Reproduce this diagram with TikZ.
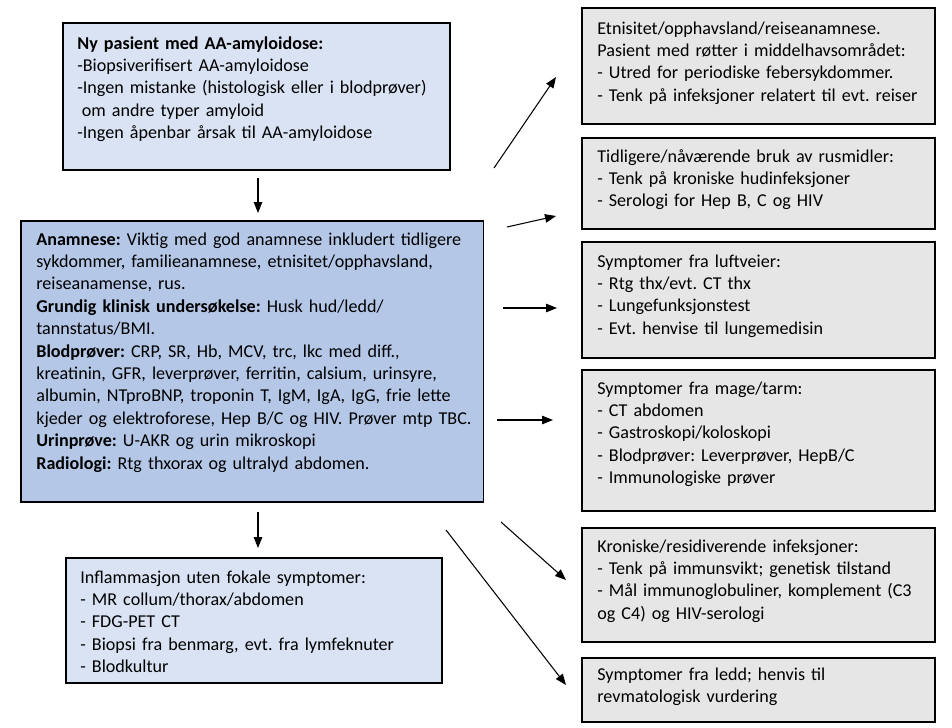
\documentclass[tikz,border=0pt]{standalone}
\usepackage{fontspec}
\setmainfont{Carlito}
\usepackage{tikz}
\usetikzlibrary{positioning, arrows.meta}
\definecolor{blaalys}{RGB}{218,227,243}
\definecolor{blaa}{RGB}{180,199,231}
\definecolor{graalys}{RGB}{231,230,230}
\frenchspacing

\begin{document}
\begin{tikzpicture}[x=0.02cm, y=-0.02cm, font=\fontsize{10.3}{12.76}\selectfont,
    boks/.style={draw=black, line width=0.9pt, anchor=north west, inner sep=0pt},
    tekst/.style={anchor=base west, align=left, inner sep=0pt},
    pil/.style={-{Triangle[length=0.22cm, width=0.17cm]}, line width=0.6pt}]
    \useasboundingbox (0,0) rectangle (952,727);
    % venstre kolonne
    \node[boks, fill=blaalys, minimum width=7.74cm, minimum height=2.94cm] (nypasient) at (62,22) {};
    \node[tekst, text width=7.4cm] (nypasienttekst) at (77,49) {\textbf{Ny pasient med AA-amyloidose:}\\
      -Biopsiverifisert AA-amyloidose\\
      -Ingen mistanke (histologisk eller i blodprøver)\\
      \hspace{0.25em}om andre typer amyloid\\
      -Ingen åpenbar årsak til AA-amyloidose};
    \node[boks, fill=blaa, minimum width=9.26cm, minimum height=5.62cm] (utredning) at (20,220) {};
    \node[tekst, text width=9.0cm] (utredningtekst) at (36,245) {\textbf{Anamnese:} Viktig med god anamnese inkludert tidligere\\
      sykdommer, familieanamnese, etnisitet/opphavsland,\\
      reiseanamense, rus.\\
      \textbf{Grundig klinisk undersøkelse:} Husk hud/ledd/\\
      tannstatus/BMI.\\
      \textbf{Blodprøver:} CRP, SR, Hb, MCV, trc, lkc med diff.,\\
      kreatinin, GFR, leverprøver, ferritin, calsium, urinsyre,\\
      albumin, NTproBNP, troponin T, IgM, IgA, IgG, frie lette\\
      kjeder og elektroforese, Hep B/C og HIV. Prøver mtp TBC.\\
      \textbf{Urinprøve:} U-AKR og urin mikroskopi\\
      \textbf{Radiologi:} Rtg thxorax og ultralyd abdomen.};
    \node[boks, fill=blaalys, minimum width=7.52cm, minimum height=2.5cm] (inflammasjon) at (65,557) {};
    \node[tekst, text width=7.2cm] (inflammasjontekst) at (80,583) {Inflammasjon uten fokale symptomer:\\
      - MR collum/thorax/abdomen\\
      - FDG-PET CT\\
      - Biopsi fra benmarg, evt. fra lymfeknuter\\
      - Blodkultur};
    % høyre kolonne
    \node[boks, fill=graalys, minimum width=7.06cm, minimum height=2.32cm] (etnisitet) at (581,7) {};
    \node[tekst, text width=6.8cm] (etnisitettekst) at (597,34) {Etnisitet/opphavsland/reiseanamnese.\\
      Pasient med røtter i middelhavsområdet:\\
      - Utred for periodiske febersykdommer.\\
      - Tenk på infeksjoner relatert til evt. reiser};
    \node[boks, fill=graalys, minimum width=7.06cm, minimum height=1.82cm] (rusmidler) at (581,137) {};
    \node[tekst, text width=6.8cm] (rusmidlertekst) at (597,162) {Tidligere/nåværende bruk av rusmidler:\\
      - Tenk på kroniske hudinfeksjoner\\
      - Serologi for Hep B, C og HIV};
    \node[boks, fill=graalys, minimum width=7.06cm, minimum height=2.32cm] (luftveier) at (581,241) {};
    \node[tekst, text width=6.8cm] (luftveiertekst) at (597,267) {Symptomer fra luftveier:\\
      - Rtg thx/evt. CT thx\\
      - Lungefunksjonstest\\
      - Evt. henvise til lungemedisin};
    \node[boks, fill=graalys, minimum width=7.06cm, minimum height=2.82cm] (magetarm) at (581,369) {};
    \node[tekst, text width=6.8cm] (magetarmtekst) at (597,394) {Symptomer fra mage/tarm:\\
      - CT abdomen\\
      - Gastroskopi/koloskopi\\
      - Blodprøver: Leverprøver, HepB/C\\
      - Immunologiske prøver};
    \node[boks, fill=graalys, minimum width=7.06cm, minimum height=2.28cm] (infeksjoner) at (581,527) {};
    \node[tekst, text width=6.8cm] (infeksjonertekst) at (597,552) {Kroniske/residiverende infeksjoner:\\
      - Tenk på immunsvikt; genetisk tilstand\\
      - Mål immunoglobuliner, komplement (C3\\
      og C4) og HIV-serologi};
    \node[boks, fill=graalys, minimum width=7.06cm, minimum height=1.28cm] (ledd) at (581,657) {};
    \node[tekst, text width=6.8cm] (leddtekst) at (597,680) {Symptomer fra ledd; henvis til\\
      revmatologisk vurdering};
    % pilenes endepunkter
    \coordinate (ned1a) at (258,178);
    \coordinate (ned1b) at (258,213);
    \coordinate (ned2a) at (258,512);
    \coordinate (ned2b) at (258,548);
    \coordinate (p1a) at (494,168);
    \coordinate (p1b) at (556,77);
    \coordinate (p2a) at (507,227);
    \coordinate (p2b) at (556,216);
    \coordinate (p3a) at (503,308);
    \coordinate (p3b) at (557,308);
    \coordinate (p4a) at (497,420);
    \coordinate (p4b) at (553,420);
    \coordinate (p5a) at (501,522);
    \coordinate (p5b) at (566,580);
    \coordinate (p6a) at (446,530);
    \coordinate (p6b) at (566,685);
    % piler
    \draw[pil] (ned1a) -- (ned1b);
    \draw[pil] (ned2a) -- (ned2b);
    \foreach \i in {1,...,6}
      \draw[pil] (p\i a) -- (p\i b);
\end{tikzpicture}
\end{document}
